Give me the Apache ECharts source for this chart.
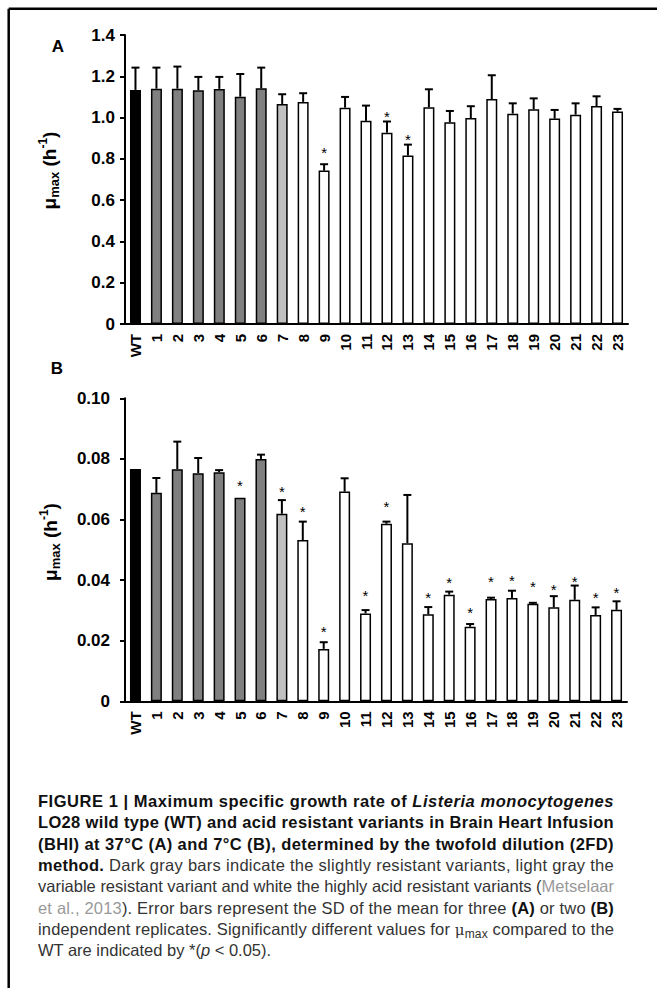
<!DOCTYPE html>
<html>
<head>
<meta charset="utf-8">
<script src="https://cdn.jsdelivr.net/npm/echarts@6/dist/echarts.min.js"></script>
<style>
  html, body { margin:0; padding:0; background:#fff; }
  #wrap { position:relative; width:657px; height:988px; overflow:hidden; }
  #c { position:absolute; left:0; top:0; width:657px; height:988px; }
  .cap { position:absolute; left:38px; width:576px; height:22px; line-height:22px;
         font-family:"Liberation Sans", Arial, sans-serif; font-size:16.5px; color:#333; white-space:nowrap; }
  .cap b { color:#111; }
  .cap .lnk { color:#999; }
  .cap .mu { font-family:"DejaVu Serif", serif; font-size:15px; }
  .cap sub { font-size:12px; vertical-align:-3px; line-height:0; }
  .inner { display:inline-block; }
</style>
</head>
<body>
<div id="wrap">
  <div id="c"></div>
  <div class="cap" style="top:790px"><span class="inner"><b>FIGURE 1 | Maximum specific growth rate of <i>Listeria monocytogenes</i></b></span></div>
  <div class="cap" style="top:811.3px"><span class="inner"><b>LO28 wild type (WT) and acid resistant variants in Brain Heart Infusion</b></span></div>
  <div class="cap" style="top:832.6px"><span class="inner"><b>(BHI) at 37°C (A) and 7°C (B), determined by the twofold dilution (2FD)</b></span></div>
  <div class="cap" style="top:853.9px"><span class="inner"><b>method.</b> Dark gray bars indicate the slightly resistant variants, light gray the</span></div>
  <div class="cap" style="top:875.2px"><span class="inner">variable resistant variant and white the highly acid resistant variants (<span class="lnk">Metselaar</span></span></div>
  <div class="cap" style="top:896.5px"><span class="inner"><span class="lnk">et al., 2013</span>). Error bars represent the SD of the mean for three <b>(A)</b> or two <b>(B)</b></span></div>
  <div class="cap" style="top:917.8px"><span class="inner">independent replicates. Significantly different values for <span class="mu">μ</span><sub>max</sub> compared to the</span></div>
  <div class="cap last" style="top:939.1px"><span class="inner">WT are indicated by *(<i>p</i> &lt; 0.05).</span></div>
</div>
<script>
// ---------------- data ----------------
const categories = ['WT','1','2','3','4','5','6','7','8','9','10','11','12','13','14','15','16','17','18','19','20','21','22','23'];
// variant class: wild type, slightly resistant, variable resistant, highly acid resistant
const variantTypes = ['wt','slight','slight','slight','slight','slight','slight','variable',
  'high','high','high','high','high','high','high','high','high','high','high','high','high','high','high','high'];

// Panel A (37 °C)
const valuesA = [1.134, 1.140, 1.140, 1.132, 1.139, 1.101, 1.142, 1.066, 1.076, 0.743, 1.048, 0.984,
                 0.927, 0.816, 1.050, 0.977, 0.998, 1.090, 1.019, 1.040, 0.995, 1.014, 1.056, 1.029];
const errorsA = [0.108, 0.102, 0.107, 0.065, 0.058, 0.110, 0.100, 0.047, 0.042, 0.031, 0.052, 0.074,
                 0.054, 0.053, 0.087, 0.055, 0.057, 0.115, 0.050, 0.053, 0.042, 0.055, 0.047, 0.013];
const starsA  = [null, null, null, null, null, null, null, null, null, 0.843, null, null,
                 1.022, 0.907, null, null, null, null, null, null, null, null, null, null];

// Panel B (7 °C)
const valuesB = [0.0767, 0.0688, 0.0766, 0.0753, 0.0756, 0.0672, 0.0800, 0.0619, 0.0532, 0.0173, 0.0692, 0.0290,
                 0.0586, 0.0522, 0.0287, 0.0352, 0.0246, 0.0338, 0.0341, 0.0322, 0.0310, 0.0335, 0.0285, 0.0302];
const errorsB = [0, 0.0049, 0.0091, 0.0050, 0.0007, 0, 0.0014, 0.0045, 0.0061, 0.0022, 0.0044, 0.0011,
                 0.0007, 0.0159, 0.0024, 0.0010, 0.0009, 0.0004, 0.0024, 0.0003, 0.0037, 0.0047, 0.0025, 0.0028];
const starsB  = [null, null, null, null, null, 0.0721, null, 0.0703, 0.0637, 0.0239, null, 0.0358,
                 0.0654, null, 0.0354, 0.0403, 0.0304, 0.0404, 0.0409, 0.0388, 0.0380, 0.0404, 0.0353, 0.0370];

const ticksA = {min:0, max:1.4, interval:0.2, decimals:1};
const ticksB = {min:0, max:0.10, interval:0.02, decimals:2};

// ---------------- styles ----------------
const FONT = '"Liberation Sans", Arial, sans-serif';
const typeColor = {wt:'#000000', slight:'#808080', variable:'#c0c0c0', high:'#ffffff'};

const chart = echarts.init(document.getElementById('c'), null, {renderer:'svg'});

function barData(vals){
  return vals.map((v,i)=>({value:v, itemStyle:{color:typeColor[variantTypes[i]]}}));
}
function errData(vals, errs){
  return vals.map((v,i)=>[i, v, errs[i]]);
}
function starData(stars){
  const out=[]; stars.forEach((s,i)=>{ if(s!==null) out.push([i,s]); }); return out;
}
function errRender(params, api){
  const i = api.value(0), v = api.value(1), e = api.value(2);
  if (!e) return null;
  const p0 = api.coord([i, v]);
  const p1 = api.coord([i, v + e]);
  const cap = 4;
  return {type:'group', children:[
    {type:'line', shape:{x1:p0[0], y1:p0[1], x2:p1[0], y2:p1[1]}, style:{stroke:'#000', lineWidth:2}},
    {type:'line', shape:{x1:p1[0]-cap, y1:p1[1], x2:p1[0]+cap, y2:p1[1]}, style:{stroke:'#000', lineWidth:2}}
  ]};
}
function starRender(params, api){
  const p = api.coord([api.value(0), api.value(1)]);
  return {type:'text', x:p[0], y:p[1]+3, style:{text:'*', fill:'#000', font:'15px '+FONT, align:'center', verticalAlign:'middle'}};
}
function yAxisFor(idx, t, margin){
  return {
    type:'value', gridIndex:idx, min:t.min, max:t.max, interval:t.interval,
    axisLine:{show:true, lineStyle:{color:'#000', width:2}},
    axisTick:{show:true, length:5, lineStyle:{color:'#000', width:2}},
    splitLine:{show:false},
    axisLabel:{margin:margin, color:'#000', fontWeight:'bold', fontSize:17, fontFamily:FONT,
      formatter:v=> (Math.abs(v)<1e-9 ? '0' : v.toFixed(t.decimals))}
  };
}
function xAxisFor(idx){
  return {
    type:'category', gridIndex:idx, data:categories,
    axisLine:{lineStyle:{color:'#000', width:2}},
    axisTick:{show:false},
    axisLabel:{interval:0, rotate:90, margin:10, color:'#000', fontWeight:'bold', fontSize:15, fontFamily:FONT}
  };
}
const titleRich = {
  a:{fontSize:19, fontWeight:'bold', fontFamily:FONT, fill:'#000', color:'#000', lineHeight:24},
  s:{fontSize:13, fontWeight:'bold', fontFamily:FONT, fill:'#000', color:'#000', lineHeight:13, verticalAlign:'bottom'},
  p:{fontSize:12, fontWeight:'bold', fontFamily:FONT, fill:'#000', color:'#000', lineHeight:12, verticalAlign:'top'}
};
const titleText = '{a|μ}{s|max}{a| (h}{p|-1}{a|)}';

const option = {
  animation:false,
  textStyle:{fontFamily:FONT},
  grid:[
    {left:125, top:35, width:503, height:289},
    {left:125, top:398.3, width:502, height:303}
  ],
  xAxis:[xAxisFor(0), xAxisFor(1)],
  yAxis:[yAxisFor(0, ticksA, 10), yAxisFor(1, ticksB, 15)],
  series:[
    {type:'bar', xAxisIndex:0, yAxisIndex:0, data:barData(valuesA), barWidth:11,
     itemStyle:{borderColor:'#000', borderWidth:1.5}},
    {type:'custom', xAxisIndex:0, yAxisIndex:0, data:errData(valuesA, errorsA), renderItem:errRender, z:5},
    {type:'custom', xAxisIndex:0, yAxisIndex:0, data:starData(starsA), renderItem:starRender, z:5},
    {type:'bar', xAxisIndex:1, yAxisIndex:1, data:barData(valuesB), barWidth:11,
     itemStyle:{borderColor:'#000', borderWidth:1.5}},
    {type:'custom', xAxisIndex:1, yAxisIndex:1, data:errData(valuesB, errorsB), renderItem:errRender, z:5},
    {type:'custom', xAxisIndex:1, yAxisIndex:1, data:starData(starsB), renderItem:starRender, z:5}
  ],
  graphic:[
    {type:'line', shape:{x1:8.7, y1:8.7, x2:657, y2:8.7}, style:{stroke:'#000', lineWidth:2.5}},
    {type:'line', shape:{x1:8.7, y1:8.7, x2:8.7, y2:988}, style:{stroke:'#000', lineWidth:2.5}},
    {type:'text', x:58, y:46, style:{text:'A', font:'bold 17px '+FONT, fill:'#000', align:'center', verticalAlign:'middle'}},
    {type:'text', x:57, y:368.5, style:{text:'B', font:'bold 17px '+FONT, fill:'#000', align:'center', verticalAlign:'middle'}},
    {type:'text', x:49, y:170.5, rotation:Math.PI/2, style:{text:titleText, rich:titleRich, align:'center', verticalAlign:'middle', fill:'#000'}},
    {type:'text', x:50, y:542, rotation:Math.PI/2, style:{text:titleText, rich:titleRich, align:'center', verticalAlign:'middle', fill:'#000'}}
  ]
};
chart.setOption(option);

// stretch caption lines to the column width (justified like the reference)
document.querySelectorAll('.cap').forEach(div=>{
  if (div.classList.contains('last')) return;
  const inner = div.querySelector('.inner');
  const w = inner.getBoundingClientRect().width;
  const n = inner.textContent.length;
  const extra = (576 - w) / n;
  inner.style.letterSpacing = extra.toFixed(3) + 'px';
});
</script>
</body>
</html>
